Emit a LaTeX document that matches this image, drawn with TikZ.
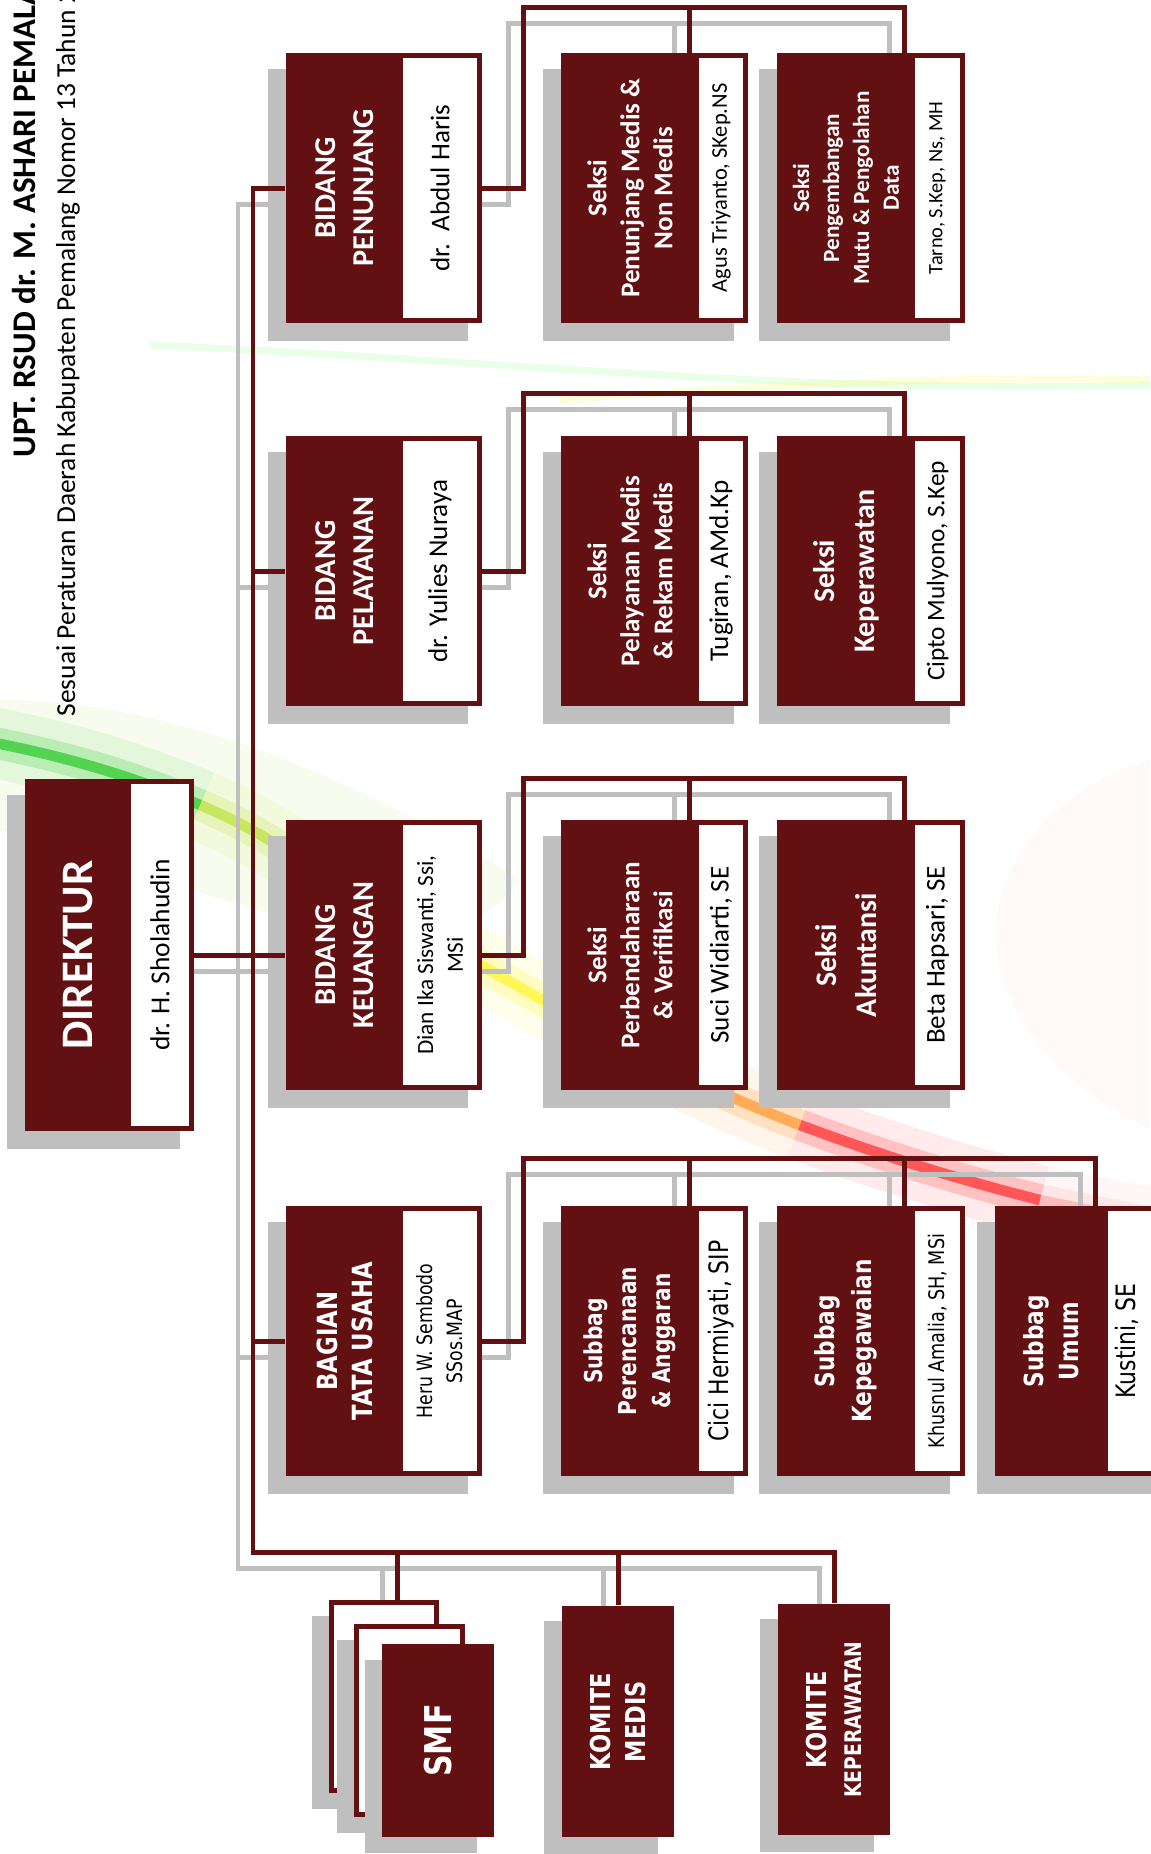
\documentclass[tikz,border=0pt]{standalone}
\usepackage{fontspec}
\setmainfont{Carlito}
\newfontfamily\tufont[FakeStretch=0.82]{DejaVu Sans}
\usetikzlibrary{positioning,calc}

\definecolor{rsred}{RGB}{98,16,18}
\definecolor{shadegray}{RGB}{191,191,191}

\pgfdeclarelayer{backdrop}
\pgfdeclarelayer{shade}
\pgfdeclarelayer{wires}
\pgfsetlayers{backdrop,shade,wires,main}

% all connectors; drawn twice (grey shadow, then red)
\newcommand{\orgwires}{%
  % spine from the Bidang column down to the committees
  \draw[wire] (penunjang.north) -| (spine) -| (komkep.east);
  \draw[wire] (spine |- pelayanan.north) -- (pelayanan.north);
  \draw[wire] (spine |- keuangan.north) -- (keuangan.north);
  \draw[wire] (spine |- tatausaha.north) -- (tatausaha.north);
  \draw[wire] (dir-nm.south) -- (keuangan.north);
  \draw[wire] (smfdrop |- spine) -- (smfdrop);
  \draw[wire] (komedis.east |- spine) -- (komedis.east);
  % Bidang to Seksi
  \draw[wire] (penunjang-nm.south) -| (rail1) -| (colB |- pengembangan.east);
  \draw[wire] (rail1 -| colA) -- (colA |- medis.east);
  \draw[wire] (pelayanan-nm.south) -| (rail2) -| (colB |- perawatan.east);
  \draw[wire] (rail2 -| colA) -- (colA |- rekam.east);
  \draw[wire] (keuangan-nm.south) -| (rail3) -| (colB |- akuntansi.east);
  \draw[wire] (rail3 -| colA) -- (colA |- perbendaharaan.east);
  % Bagian to Subbag
  \draw[wire] (tatausaha-nm.south) -| (rail4) -| (colC |- umum.east);
  \draw[wire] (rail4 -| colA) -- (colA |- perencanaan.east);
  \draw[wire] (rail4 -| colB) -- (colB |- kepegawaian.east);
}

\begin{document}
\begin{tikzpicture}[x=0.01cm, y=-0.01cm,
    unit/.style={rotate=90, fill=rsred, text=white, inner sep=0pt, align=center},
    holder/.style={rotate=90, fill=white, draw=rsred, line width=1.42pt, inner sep=0pt, align=center, text=black},
    bidang/.style={unit, minimum width=2.69cm, minimum height=1.17cm, font=\bfseries\fontsize{8.6}{10.8}\selectfont},
    bidangnm/.style={holder, minimum width=2.64cm, minimum height=0.79cm, font=\fontsize{7.7}{9}\selectfont},
    seksi/.style={unit, minimum width=2.69cm, minimum height=1.38cm, font=\bfseries\fontsize{7.7}{9.4}\selectfont},
    seksinm/.style={holder, minimum width=2.64cm, minimum height=0.49cm, font=\fontsize{7.7}{9}\selectfont},
    komite/.style={unit, minimum width=2.31cm, minimum height=1.12cm, font=\tufont\bfseries\fontsize{7.8}{10}\selectfont},
    smfcard/.style={holder, minimum width=1.88cm, minimum height=1.05cm},
    heading/.style={rotate=90, anchor=base west, inner sep=0pt, text=black},
]
\useasboundingbox (0,0) rectangle (1150,1854);

% soft colour sweep in the background
\begin{pgfonlayer}{backdrop}
  \fill[yellow!60!green, opacity=0.08] (0,700) .. controls (150,700) and (330,760) .. (520,880) .. controls (430,1000) and (250,900) .. (0,830) -- cycle;
  \fill[pink!60, opacity=0.16] (1150,760) .. controls (960,820) and (930,1020) .. (1150,1130) -- cycle;
  \foreach \w/\o in {20pt/0.08, 9pt/0.18, 3pt/0.55} {
    \draw[line width=\w, green!75!black, opacity=\o] (-20,740) .. controls (60,755) and (130,775) .. (200,805);
    \draw[line width=\w, yellow!70!green, opacity=\o] (200,805) .. controls (260,830) and (300,860) .. (360,895);
    \draw[line width=\w, yellow, opacity=\o] (360,895) .. controls (420,930) and (480,965) .. (560,1010);
    \draw[line width=\w, orange, opacity=\o] (560,1010) .. controls (640,1055) and (720,1095) .. (800,1125);
    \draw[line width=\w, red, opacity=\o] (800,1125) .. controls (880,1155) and (960,1180) .. (1040,1200);
    \draw[line width=\w, pink!80!red, opacity=\o] (1040,1200) .. controls (1090,1210) and (1130,1220) .. (1170,1225);
  }
  \draw[green!45, line width=2pt, opacity=0.2] (150,345) .. controls (500,360) and (800,395) .. (1150,385);
  \draw[yellow!70, line width=2pt, opacity=0.2] (560,400) .. controls (800,382) and (1000,376) .. (1150,380);
\end{pgfonlayer}

% Title
\node[heading, font=\bfseries\fontsize{9.4}{11}\selectfont] (title) at (35,458) {UPT. RSUD dr. M. ASHARI PEMALANG};
\node[heading, font=\fontsize{7.8}{9}\selectfont] (subtitle) at (75,717) {Sesuai Peraturan Daerah Kabupaten Pemalang Nomor 13 Tahun 2};

% Direktur
\node[unit, minimum width=3.51cm, minimum height=1.06cm, font=\bfseries\fontsize{12.8}{15}\selectfont] (dir) at (78,955) {DIREKTUR};
\node[holder, minimum width=3.46cm, minimum height=0.63cm, font=\fontsize{7.8}{9}\selectfont] (dir-nm) at (160,955) {dr. H. Sholahudin};

% Bidang / Bagian
\node[bidang] (penunjang) at (344.5,188) {BIDANG\\PENUNJANG};
\node[bidangnm] (penunjang-nm) at (440,188) {dr.\ \ Abdul Haris};
\node[bidang] (pelayanan) at (344.5,571) {BIDANG\\PELAYANAN};
\node[bidangnm] (pelayanan-nm) at (440,571) {dr. Yulies Nuraya};
\node[bidang] (keuangan) at (344.5,955) {BIDANG\\KEUANGAN};
\node[bidangnm, font=\fontsize{6.6}{8.5}\selectfont] (keuangan-nm) at (440,955) {Dian Ika Siswanti, Ssi,\\MSi};
\node[bidang, font=\tufont\bfseries\fontsize{7.9}{10}\selectfont] (tatausaha) at (344.5,1341) {BAGIAN\\TATA USAHA};
\node[bidangnm, font=\tufont\fontsize{6}{8.5}\selectfont] (tatausaha-nm) at (440,1341) {Heru W. Sembodo\\SSos.MAP};

% Seksi under Bidang Penunjang
\node[seksi] (medis) at (630,188) {Seksi\\Penunjang Medis \&\\Non Medis};
\node[seksinm, font=\fontsize{6.4}{8}\selectfont] (medis-nm) at (721,188) {Agus Triyanto, SKep.NS};
\node[seksi, font=\bfseries\fontsize{6.6}{8.5}\selectfont] (pengembangan) at (846,188) {Seksi\\Pengembangan\\Mutu \& Pengolahan\\Data};
\node[seksinm, font=\fontsize{5.8}{7}\selectfont] (pengembangan-nm) at (937.5,188) {Tarno, S.Kep, Ns, MH};

% Seksi under Bidang Pelayanan
\node[seksi] (rekam) at (630,571) {Seksi\\Pelayanan Medis\\\& Rekam Medis};
\node[seksinm] (rekam-nm) at (721,571) {Tugiran, AMd.Kp};
\node[seksi, font=\bfseries\fontsize{8.5}{11.4}\selectfont] (perawatan) at (846,571) {Seksi\\Keperawatan};
\node[seksinm, font=\fontsize{7.2}{9}\selectfont] (perawatan-nm) at (937.5,571) {Cipto Mulyono, S.Kep};

% Seksi under Bidang Keuangan
\node[seksi] (perbendaharaan) at (630,955) {Seksi\\Perbendaharaan\\\& Verifikasi};
\node[seksinm] (perbendaharaan-nm) at (721,955) {Suci Widiarti, SE};
\node[seksi, font=\bfseries\fontsize{8.5}{11.4}\selectfont] (akuntansi) at (846,955) {Seksi\\Akuntansi};
\node[seksinm] (akuntansi-nm) at (937.5,955) {Beta Hapsari, SE};

% Subbag under Bagian Tata Usaha
\node[seksi, font=\tufont\bfseries\fontsize{7}{9.7}\selectfont] (perencanaan) at (630,1341) {Subbag\\Perencanaan\\\& Anggaran};
\node[seksinm, font=\tufont\fontsize{7.6}{9}\selectfont] (perencanaan-nm) at (721,1341) {Cici Hermiyati, SIP};
\node[seksi, font=\tufont\bfseries\fontsize{7.5}{10.5}\selectfont] (kepegawaian) at (846,1341) {Subbag\\Kepegawaian};
\node[seksinm, font=\tufont\fontsize{6.1}{8}\selectfont] (kepegawaian-nm) at (937.5,1341) {Khusnul Amalia, SH, MSi};
\node[seksi, minimum height=1.13cm, font=\tufont\bfseries\fontsize{7.5}{10}\selectfont] (umum) at (1051.5,1341) {Subbag\\Umum};
\node[seksinm, minimum height=0.95cm] (umum-nm) at (1153,1341) {};
\node[rotate=90, inner sep=0pt, font=\tufont\fontsize{7.6}{9}\selectfont] (umumname) at (1127,1341) {Kustini, SE};

% SMF and committees
\node[smfcard] (smfback) at (384,1696.5) {};
\fill[shadegray] (337,1640) rectangle (448,1833);
\node[smfcard] (smfmid) at (409.5,1720.5) {};
\fill[shadegray] (365,1660) rectangle (477,1853);
\node[komite, minimum width=1.93cm, font=\tufont\bfseries\fontsize{10.5}{12}\selectfont] (smf) at (438,1740.5) {SMF};
\node[komite] (komedis) at (618,1721.5) {KOMITE\\MEDIS};
\node[komite] (komkep) at (834,1719.5) {KOMITE\\{\fontsize{6.5}{8}\selectfont KEPERAWATAN}};

% junction points of the connectors
\coordinate (spine) at (253,1552);
\coordinate (rail1) at (523,7);
\coordinate (rail2) at (523,393);
\coordinate (rail3) at (523,778);
\coordinate (rail4) at (523,1158);
\coordinate (colA) at (689,0);
\coordinate (colB) at (904,0);
\coordinate (colC) at (1095,0);
\coordinate (smfdrop) at ($(smfback.east)+(13,0)$);

% shadows
\begin{pgfonlayer}{shade}
  \foreach \b in {dir,penunjang,pelayanan,keuangan,tatausaha,medis,pengembangan,rekam,perawatan,perbendaharaan,akuntansi,perencanaan,kepegawaian,umum}
    \fill[shadegray] ([shift={(-17,16)}]\b.north east) rectangle ([shift={(-14.5,18.5)}]\b-nm.south west);
  \foreach \b in {komedis,komkep,smfback}
    \fill[shadegray] ([shift={(-17,16)}]\b.north east) rectangle ([shift={(-17,16)}]\b.south west);
  \begin{scope}[transform canvas={shift={(-15,16)}}, wire/.style={draw=shadegray, line width=1.42pt}]
    \orgwires
  \end{scope}
\end{pgfonlayer}

% connectors
\begin{pgfonlayer}{wires}
  \begin{scope}[wire/.style={draw=rsred, line width=1.42pt}]
    \orgwires
  \end{scope}
\end{pgfonlayer}

\end{tikzpicture}
\end{document}
